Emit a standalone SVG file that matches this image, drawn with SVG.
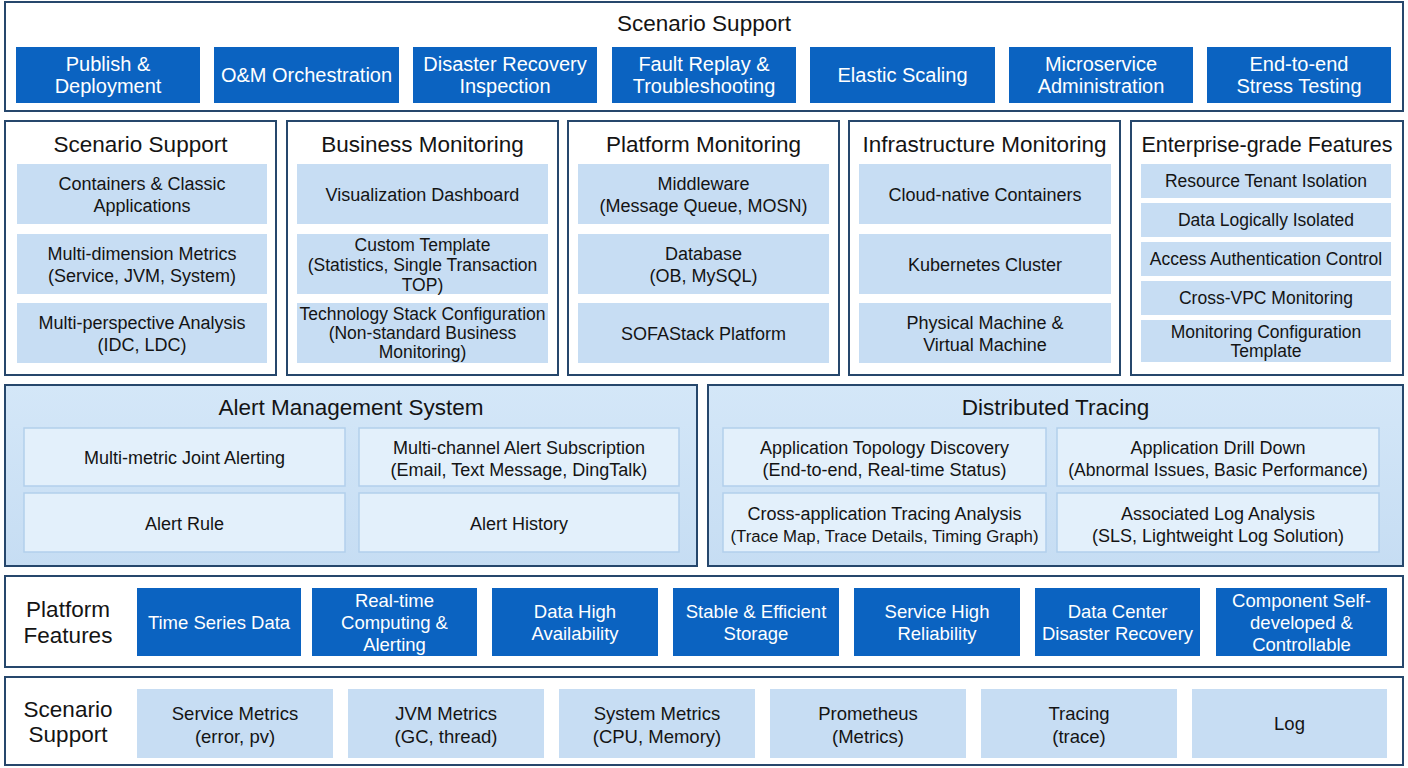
<svg xmlns="http://www.w3.org/2000/svg" width="1408" height="768" viewBox="0 0 1408 768">
<defs>
<linearGradient id="pg" x1="0" y1="0" x2="0" y2="1">
<stop offset="0" stop-color="#d4e7f8"/>
<stop offset="1" stop-color="#c6ddf3"/>
</linearGradient>
<style>
.panel{fill:#ffffff;stroke:#26476c;stroke-width:2}
.bpanel{fill:url(#pg);stroke:#26476c;stroke-width:2}
.btn{fill:#0b63c1}
.lb{fill:#c7ddf3}
.wb{fill:#e3f0fb;stroke:#b2cfec;stroke-width:1.5}
text{font-family:"Liberation Sans",Arial,sans-serif;text-anchor:middle;fill:#141414}
.ttl{font-size:22.5px}
.bt{font-size:20px;fill:#ffffff}
.pf{font-size:18.5px;fill:#ffffff}
.s{font-size:18px}
.s17{font-size:17.5px}
.e{font-size:17.5px}
.lbl{font-size:22.5px}
.b{font-size:18.5px}
</style>
</defs>
<rect width="1408" height="768" fill="#ffffff"/>

<g id="top-scenario-support">
<rect class="panel" x="5" y="2" width="1398" height="109"/>
<text class="ttl" x="704" y="31">Scenario Support</text>
</g>
<g id="publish-deployment"><rect class="btn" x="16" y="47" width="184" height="56"/><text class="bt" x="108" y="71">Publish &amp;</text><text class="bt" x="108" y="93">Deployment</text></g>
<g id="om-orchestration"><rect class="btn" x="214" y="47" width="185" height="56"/><text class="bt" x="306.5" y="82">O&amp;M Orchestration</text></g>
<g id="disaster-recovery-inspection"><rect class="btn" x="413" y="47" width="184" height="56"/><text class="bt" x="505" y="71">Disaster Recovery</text><text class="bt" x="505" y="93">Inspection</text></g>
<g id="fault-replay"><rect class="btn" x="612" y="47" width="184" height="56"/><text class="bt" x="704" y="71">Fault Replay &amp;</text><text class="bt" x="704" y="93">Troubleshooting</text></g>
<g id="elastic-scaling"><rect class="btn" x="810" y="47" width="185" height="56"/><text class="bt" x="902.5" y="82">Elastic Scaling</text></g>
<g id="microservice-administration"><rect class="btn" x="1009" y="47" width="184" height="56"/><text class="bt" x="1101" y="71">Microservice</text><text class="bt" x="1101" y="93">Administration</text></g>
<g id="end-to-end-stress-testing"><rect class="btn" x="1207" y="47" width="184" height="56"/><text class="bt" x="1299" y="71">End-to-end</text><text class="bt" x="1299" y="93">Stress Testing</text></g>

<g id="scenario-support-panel">
<rect class="panel" x="5" y="121" width="271" height="254"/>
<text class="ttl" x="140.5" y="152">Scenario Support</text>
<rect class="lb" x="17" y="164" width="250" height="60"/>
<text class="s" x="142" y="190">Containers &amp; Classic</text><text class="s" x="142" y="212">Applications</text>
<rect class="lb" x="17" y="234" width="250" height="60"/>
<text class="s" x="142" y="260">Multi-dimension Metrics</text><text class="s" x="142" y="282">(Service, JVM, System)</text>
<rect class="lb" x="17" y="303" width="250" height="60"/>
<text class="s" x="142" y="329">Multi-perspective Analysis</text><text class="s" x="142" y="351">(IDC, LDC)</text>
</g>

<g id="business-monitoring">
<rect class="panel" x="287" y="121" width="271" height="254"/>
<text class="ttl" x="422.5" y="152">Business Monitoring</text>
<rect class="lb" x="297" y="164" width="251" height="60"/>
<text class="s" x="422.5" y="201">Visualization Dashboard</text>
<rect class="lb" x="297" y="234" width="251" height="60"/>
<text class="s17" x="422.5" y="251">Custom Template</text><text class="s17" x="422.5" y="271">(Statistics, Single Transaction</text><text class="s17" x="422.5" y="291">TOP)</text>
<rect class="lb" x="297" y="303" width="251" height="60"/>
<text class="s17" x="422.5" y="320">Technology Stack Configuration</text><text class="s17" x="422.5" y="339">(Non-standard Business</text><text class="s17" x="422.5" y="358">Monitoring)</text>
</g>

<g id="platform-monitoring">
<rect class="panel" x="568" y="121" width="271" height="254"/>
<text class="ttl" x="703.5" y="152">Platform Monitoring</text>
<rect class="lb" x="578" y="164" width="251" height="60"/>
<text class="s" x="703.5" y="190">Middleware</text><text class="s" x="703.5" y="212">(Message Queue, MOSN)</text>
<rect class="lb" x="578" y="234" width="251" height="60"/>
<text class="s" x="703.5" y="260">Database</text><text class="s" x="703.5" y="282">(OB, MySQL)</text>
<rect class="lb" x="578" y="303" width="251" height="60"/>
<text class="s" x="703.5" y="340">SOFAStack Platform</text>
</g>

<g id="infrastructure-monitoring">
<rect class="panel" x="849" y="121" width="271" height="254"/>
<text class="ttl" x="984.5" y="152">Infrastructure Monitoring</text>
<rect class="lb" x="859" y="164" width="252" height="60"/>
<text class="s" x="985" y="201">Cloud-native Containers</text>
<rect class="lb" x="859" y="234" width="252" height="60"/>
<text class="s" x="985" y="271">Kubernetes Cluster</text>
<rect class="lb" x="859" y="303" width="252" height="60"/>
<text class="s" x="985" y="329">Physical Machine &amp;</text><text class="s" x="985" y="351">Virtual Machine</text>
</g>

<g id="enterprise-grade-features">
<rect class="panel" x="1131" y="121" width="272" height="254"/>
<text class="ttl" x="1267" y="152" style="font-size:21.5px">Enterprise-grade Features</text>
<rect class="lb" x="1141" y="164" width="250" height="34"/>
<text class="e" x="1266" y="187">Resource Tenant Isolation</text>
<rect class="lb" x="1141" y="203" width="250" height="34"/>
<text class="e" x="1266" y="226">Data Logically Isolated</text>
<rect class="lb" x="1141" y="242" width="250" height="34"/>
<text class="e" x="1266" y="265">Access Authentication Control</text>
<rect class="lb" x="1141" y="281" width="250" height="34"/>
<text class="e" x="1266" y="304">Cross-VPC Monitoring</text>
<rect class="lb" x="1141" y="320" width="250" height="42"/>
<text class="e" x="1266" y="338">Monitoring Configuration</text><text class="e" x="1266" y="357">Template</text>
</g>

<g id="alert-management-system">
<rect class="bpanel" x="5" y="385" width="692" height="181"/>
<text class="ttl" x="351" y="415">Alert Management System</text>
<rect class="wb" x="24" y="428" width="321" height="58"/>
<text class="s" x="184.5" y="464">Multi-metric Joint Alerting</text>
<rect class="wb" x="359" y="428" width="320" height="58"/>
<text class="s" x="519" y="454">Multi-channel Alert Subscription</text><text class="s" x="519" y="476">(Email, Text Message, DingTalk)</text>
<rect class="wb" x="24" y="493" width="321" height="59"/>
<text class="s" x="184.5" y="530">Alert Rule</text>
<rect class="wb" x="359" y="493" width="320" height="59"/>
<text class="s" x="519" y="530">Alert History</text>
</g>

<g id="distributed-tracing">
<rect class="bpanel" x="708" y="385" width="695" height="181"/>
<text class="ttl" x="1055.5" y="415">Distributed Tracing</text>
<rect class="wb" x="723" y="428" width="323" height="58"/>
<text class="s" x="884.5" y="454">Application Topology Discovery</text><text class="s" x="884.5" y="476">(End-to-end, Real-time Status)</text>
<rect class="wb" x="1057" y="428" width="322" height="58"/>
<text class="s" x="1218" y="454">Application Drill Down</text><text class="s" x="1218" y="476" style="font-size:17.5px">(Abnormal Issues, Basic Performance)</text>
<rect class="wb" x="723" y="493" width="323" height="59"/>
<text class="s" x="884.5" y="520">Cross-application Tracing Analysis</text><text class="s" x="884.5" y="542" style="font-size:16.8px">(Trace Map, Trace Details, Timing Graph)</text>
<rect class="wb" x="1057" y="493" width="322" height="59"/>
<text class="s" x="1218" y="520">Associated Log Analysis</text><text class="s" x="1218" y="542">(SLS, Lightweight Log Solution)</text>
</g>

<g id="platform-features">
<rect class="panel" x="5" y="576" width="1398" height="91"/>
<text class="lbl" x="68" y="617">Platform</text><text class="lbl" x="68" y="643">Features</text>
</g>
<g id="time-series-data"><rect class="btn" x="137" y="588" width="164" height="68"/><text class="pf" x="219" y="629">Time Series Data</text></g>
<g id="real-time-computing"><rect class="btn" x="312" y="588" width="165" height="68"/><text class="pf" x="394.5" y="607">Real-time</text><text class="pf" x="394.5" y="629">Computing &amp;</text><text class="pf" x="394.5" y="651">Alerting</text></g>
<g id="data-high-availability"><rect class="btn" x="492" y="588" width="166" height="68"/><text class="pf" x="575" y="618">Data High</text><text class="pf" x="575" y="640">Availability</text></g>
<g id="stable-efficient-storage"><rect class="btn" x="673" y="588" width="166" height="68"/><text class="pf" x="756" y="618">Stable &amp; Efficient</text><text class="pf" x="756" y="640">Storage</text></g>
<g id="service-high-reliability"><rect class="btn" x="854" y="588" width="166" height="68"/><text class="pf" x="937" y="618">Service High</text><text class="pf" x="937" y="640">Reliability</text></g>
<g id="data-center-disaster-recovery"><rect class="btn" x="1035" y="588" width="165" height="68"/><text class="pf" x="1117.5" y="618">Data Center</text><text class="pf" x="1117.5" y="640">Disaster Recovery</text></g>
<g id="component-self-developed"><rect class="btn" x="1216" y="588" width="171" height="68"/><text class="pf" x="1301.5" y="607">Component Self-</text><text class="pf" x="1301.5" y="629">developed &amp;</text><text class="pf" x="1301.5" y="651">Controllable</text></g>

<g id="bottom-scenario-support">
<rect class="panel" x="5" y="677" width="1398" height="88"/>
<text class="lbl" x="68" y="717">Scenario</text><text class="lbl" x="68" y="742">Support</text>
</g>
<g id="service-metrics"><rect class="lb" x="137" y="689" width="196" height="69"/><text class="b" x="235" y="720">Service Metrics</text><text class="b" x="235" y="743">(error, pv)</text></g>
<g id="jvm-metrics"><rect class="lb" x="348" y="689" width="196" height="69"/><text class="b" x="446" y="720">JVM Metrics</text><text class="b" x="446" y="743">(GC, thread)</text></g>
<g id="system-metrics"><rect class="lb" x="559" y="689" width="196" height="69"/><text class="b" x="657" y="720">System Metrics</text><text class="b" x="657" y="743">(CPU, Memory)</text></g>
<g id="prometheus"><rect class="lb" x="770" y="689" width="196" height="69"/><text class="b" x="868" y="720">Prometheus</text><text class="b" x="868" y="743">(Metrics)</text></g>
<g id="tracing"><rect class="lb" x="981" y="689" width="196" height="69"/><text class="b" x="1079" y="720">Tracing</text><text class="b" x="1079" y="743">(trace)</text></g>
<g id="log"><rect class="lb" x="1192" y="689" width="195" height="69"/><text class="b" x="1289.5" y="730">Log</text></g>

<g id="connectors"/>
</svg>
